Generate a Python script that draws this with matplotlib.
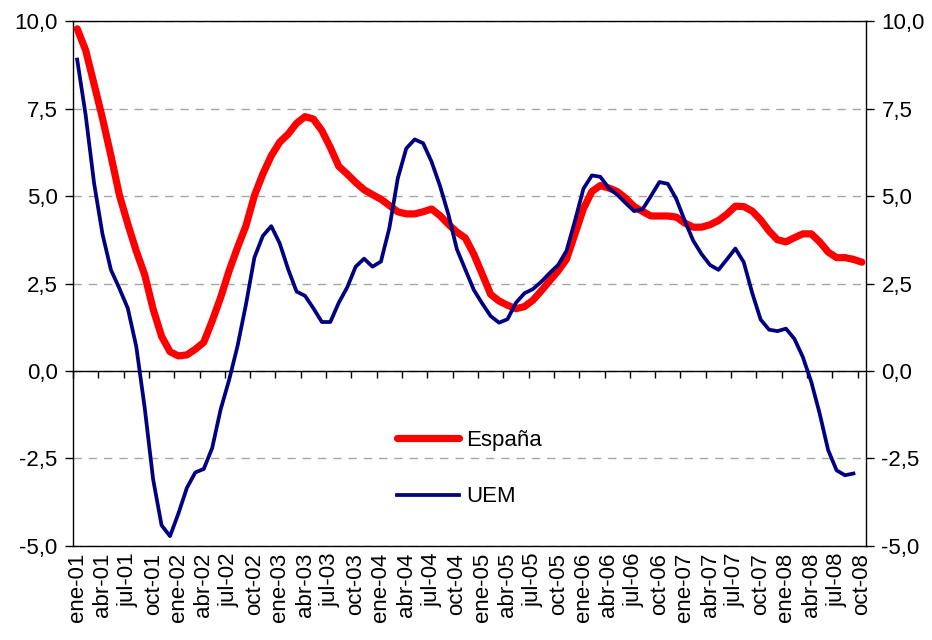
import numpy as np
import matplotlib.pyplot as plt
from matplotlib.ticker import FuncFormatter

plt.rcParams['font.family'] = ['Liberation Sans', 'DejaVu Sans']

# meses ene-01 .. oct-08
meses = ['ene', 'feb', 'mar', 'abr', 'may', 'jun', 'jul', 'ago', 'sep', 'oct', 'nov', 'dic']
periodos = [f'{m}-{a:02d}' for a in range(1, 9) for m in meses][:94]

espana = [9.78, 9.17, 8.20, 7.22, 6.15, 5.03, 4.20, 3.43, 2.75, 1.77,
          0.99, 0.55, 0.43, 0.46, 0.62, 0.82, 1.43, 2.10, 2.86, 3.53,
          4.15, 5.01, 5.63, 6.15, 6.54, 6.77, 7.08, 7.27, 7.20, 6.87,
          6.39, 5.85, 5.63, 5.39, 5.18, 5.04, 4.91, 4.73, 4.55, 4.49,
          4.49, 4.55, 4.63, 4.44, 4.19, 3.97, 3.80, 3.34, 2.77, 2.19,
          2.00, 1.88, 1.78, 1.84, 2.02, 2.29, 2.58, 2.86, 3.20, 3.92,
          4.64, 5.13, 5.30, 5.23, 5.13, 4.94, 4.70, 4.56, 4.43, 4.43,
          4.43, 4.40, 4.23, 4.11, 4.11, 4.18, 4.30, 4.48, 4.71, 4.70,
          4.57, 4.32, 4.00, 3.75, 3.69, 3.81, 3.92, 3.92, 3.69, 3.40,
          3.24, 3.24, 3.19, 3.11]

uem = [8.90, 7.32, 5.37, 3.91, 2.89, 2.36, 1.79, 0.70, -1.05, -3.10,
       -4.41, -4.72, -4.07, -3.34, -2.90, -2.80, -2.20, -1.10, -0.26, 0.71,
       1.90, 3.24, 3.86, 4.14, 3.65, 2.91, 2.27, 2.15, 1.79, 1.40,
       1.40, 1.95, 2.39, 2.98, 3.21, 2.98, 3.13, 4.09, 5.51, 6.36,
       6.62, 6.51, 5.98, 5.29, 4.47, 3.48, 2.90, 2.32, 1.93, 1.57,
       1.38, 1.48, 1.95, 2.22, 2.34, 2.55, 2.80, 3.03, 3.44, 4.30,
       5.21, 5.59, 5.55, 5.23, 5.04, 4.80, 4.57, 4.62, 5.00, 5.40,
       5.35, 4.92, 4.30, 3.73, 3.34, 3.03, 2.89, 3.19, 3.50, 3.11,
       2.23, 1.47, 1.18, 1.14, 1.21, 0.92, 0.40, -0.31, -1.22, -2.26,
       -2.84, -2.98, -2.93]

fig = plt.figure(figsize=(9.32, 6.4), dpi=100)
ax = fig.add_axes([0.0783, 0.147, 0.851, 0.820])

ax.plot(np.arange(len(espana)), espana, color='#ff0000', lw=5.2,
        solid_joinstyle='round', solid_capstyle='round', label='España', zorder=3)
ax.plot(np.arange(len(uem)), uem, color='#000080', lw=2.7,
        solid_joinstyle='round', label='UEM', zorder=4)

ax.set_xlim(-0.5, len(periodos) - 0.5)
ax.set_ylim(-5, 10)

# eje y a ambos lados
ax.set_yticks(np.arange(-5, 10.01, 2.5))
ax.yaxis.set_major_formatter(FuncFormatter(lambda v, p: f'{v:.1f}'.replace('.', ',')))
ax.tick_params(axis='y', labelsize=16, direction='out', length=6, width=1,
               right=True, labelright=True, pad=5)
ax.yaxis.grid(True, color='#a6a6a6', lw=1, ls=(0, (6, 5)))
ax.set_axisbelow(True)

# etiquetas del eje x abajo, marcas sobre la linea del cero
ax.set_xticks(np.arange(0, len(periodos), 3))
ax.set_xticklabels(periodos[::3], rotation=90)
ax.tick_params(axis='x', labelsize=16, length=0, pad=5)

ax.axhline(0, color='black', lw=1, zorder=2)
secax = ax.secondary_xaxis(1 / 3)
secax.set_xticks(np.arange(-0.5, len(periodos), 3))
secax.set_xticklabels([])
secax.tick_params(direction='out', length=5, width=1)
secax.spines['bottom'].set_visible(False)
secax.spines['top'].set_visible(False)

for s in ax.spines.values():
    s.set_color('black')
    s.set_linewidth(1)

ax.legend(loc='upper left', bbox_to_anchor=(0.408, 0.221), frameon=False,
          fontsize=16, handlelength=2.8, handletextpad=0.35, labelspacing=1.6,
          borderpad=0, borderaxespad=0)

fig.savefig('out.png', dpi=100)
